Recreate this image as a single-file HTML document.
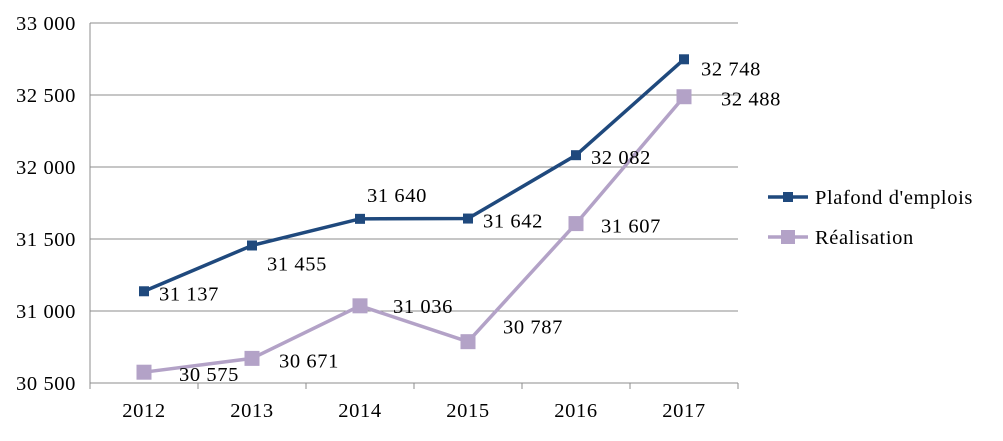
<!DOCTYPE html>
<html><head><meta charset="utf-8"><style>
body{margin:0;background:#fff;}
svg text{font-family:"Liberation Serif",serif;font-size:20.5px;letter-spacing:0.6px;fill:#000;}
</style></head><body>
<svg width="1003" height="436">
<g id="grid"></g>
<g id="axes"></g>
<g id="series"></g>
<g id="legend">
  <line x1="768" y1="197" x2="808" y2="197" stroke="#1F497D" stroke-width="3.5"/>
  <rect x="783" y="192" width="10" height="10" fill="#1F497D"/>
  <text x="815" y="204">Plafond d'emplois</text>
  <line x1="768" y1="237" x2="808" y2="237" stroke="#B3A2C7" stroke-width="3.5"/>
  <rect x="781" y="230" width="14" height="14" fill="#B3A2C7"/>
  <text x="815" y="244">Réalisation</text>
</g>
</svg>
<script>
const categories=["2012","2013","2014","2015","2016","2017"];
const plafond=[31137,31455,31640,31642,32082,32748];
const realisation=[30575,30671,31036,30787,31607,32488];
const yTicks=[30500,31000,31500,32000,32500,33000];
const plafondLabelOffsets=[[15,9],[15,25],[7,-17],[15,9],[15,9],[17,16]];
const realLabelOffsets=[[35,9],[27,9],[33,7],[35,-8],[25,9],[37,9]];
const NS="http://www.w3.org/2000/svg";
const L=90,R=738,T=23,B=383;
const x=i=>L+(R-L)/categories.length*(i+0.5);
const y=v=>B-(v-30500)/(33000-30500)*(B-T);
function mk(tag,attrs,parent){const e=document.createElementNS(NS,tag);for(const k in attrs)e.setAttribute(k,attrs[k]);parent.appendChild(e);return e;}
const grid=document.getElementById('grid'),axes=document.getElementById('axes'),ser=document.getElementById('series');
yTicks.forEach(t=>{
  const g=mk('line',{x1:L,x2:R,y1:y(t),y2:y(t),stroke:'#8c8c8c','stroke-width':1},grid);
  
  
  const tx=mk('text',{x:L-14,y:y(t)+7,'text-anchor':'end'},axes);
  tx.textContent=String(t).replace(/(\d\d)(\d\d\d)$/,'$1 $2');
  
  
});
mk('line',{x1:L,x2:L,y1:T,y2:B,stroke:'#8c8c8c'},axes);
for(let i=0;i<=categories.length;i++){
  const xx=L+(R-L)/categories.length*i;
  mk('line',{x1:xx,x2:xx,y1:B,y2:B+6,stroke:'#8c8c8c'},axes);
}
categories.forEach((c,i)=>{
  const t=mk('text',{x:x(i),y:417,'text-anchor':'middle'},axes);
  t.textContent=c;
  
  
});
function fmt(v){return String(v).replace(/(\d\d)(\d\d\d)$/,'$1 $2');}
function draw(vals,color,size,name,offs){
  const pl=mk('polyline',{points:vals.map((v,i)=>x(i)+','+y(v)).join(' '),fill:'none',stroke:color,'stroke-width':3.5},ser);
  
  
  vals.forEach((v,i)=>{
    const r=mk('rect',{x:x(i)-size/2,y:y(v)-size/2,width:size,height:size,fill:color},ser);
    
    
    const t=mk('text',{x:x(i)+offs[i][0],y:y(v)+offs[i][1]},ser);
    t.textContent=fmt(v);
    
    
  });
}
draw(realisation,'#B3A2C7',15,'realisation',realLabelOffsets);
draw(plafond,'#1F497D',10,'plafond',plafondLabelOffsets);
</script>
</body></html>
